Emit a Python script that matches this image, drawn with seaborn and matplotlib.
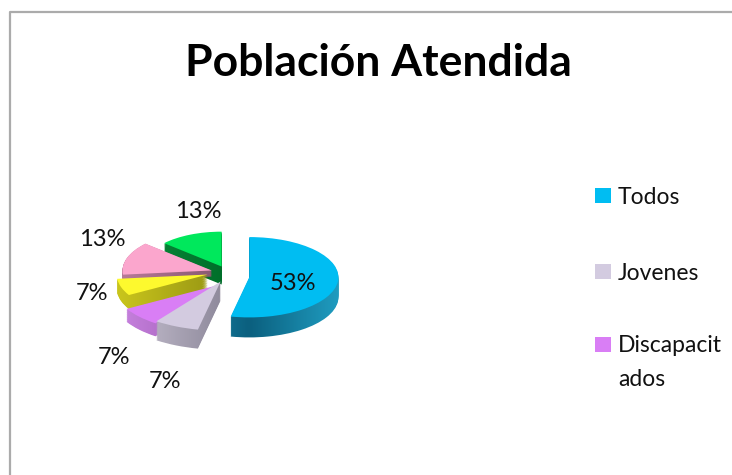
import matplotlib
matplotlib.use('Agg')
import matplotlib.pyplot as plt
from matplotlib.colors import LinearSegmentedColormap
from matplotlib.lines import Line2D
from matplotlib.patches import Rectangle
import numpy as np
import seaborn as sns

# datos
titulo = 'Población Atendida'
valores = [8, 1, 1, 1, 2, 2]
leyenda = ['Todos', 'Jovenes', 'Discapacit\nados']
colores = ['#00bdf2', '#d3cbe0', '#d97ef5', '#fdf92e', '#fba6cd', '#00e85c']
oscuros = ['#0b5f7e', '#8f8a9c', '#9a58ae', '#9c9a14', '#8a5a72', '#006f2a']
claros = ['#1f9cc0', '#c2bccc', '#c47fdc', '#c9c51c', '#b77a98', '#0a8a3a']

# estilo y posiciones en pixeles
W, H = 732, 475
CX, CY = 222, 275
RX, RY = 91, 41
explode = [0.29, 0.2, 0.2, 0.2, 0.2, 0.2]
radios = [0.98, 1.2, 1.14, 1.0, 0.98, 0.85]
prof = [20, 19, 13, 14, 6, 18]
ajuste_x = [1, 6, 8, 3, 7, 7]
ajuste_y = [1, -1, 5, -3, -2, -1]
pos_pct = [(293, 284), (165, 381), (114, 358), (92, 293), (102, 239), (198, 212)]
pos_ley = [(595, 196), (595, 272), (595, 345)]
pos_txt = [(618, 197), (618, 273), (618, 346), (618, 379)]

sns.set_theme(style='white')
plt.rcParams['font.family'] = ['Lato', 'DejaVu Sans']

fig = plt.figure(figsize=(W / 100, H / 100), dpi=100)
fondo = fig.add_axes([0, 0, 1, 1])
fondo.set_xlim(0, W)
fondo.set_ylim(H, 0)
fondo.axis('off')

# marco gris (solo arriba e izquierda se ven)
fondo.add_line(Line2D([10, 10, W], [H, 12, 12], color='#ababab', lw=1.6))

ax = fig.add_axes([(CX - RX * 1.6) / W, 1 - (CY + RY * 3) / H, RX * 3.2 / W, RY * 6 / H])
LX, LY = 1.6, 3.0
orden = [5, 4, 3, 2, 1, 0]  # de atras hacia adelante


def pastel(dy):
    wedges, _ = ax.pie(valores, colors=colores, startangle=90, counterclock=False,
                       explode=explode, radius=1.0)
    for i, w in enumerate(wedges):
        w.set_radius(radios[i])
        x, y = w.center
        w.set_center((x + ajuste_x[i] / RX, y - (ajuste_y[i] + dy * prof[i]) / RY))
        w.set_linewidth(0)
    return wedges


# cuerpo con degradado, capa por capa
grad = np.linspace(0, 1, 64).reshape(1, -1)
for k in range(20, 0, -1):
    capa = pastel(k / 20)
    for i, w in enumerate(capa):
        z = (orden.index(i) + 1) * 100 + (20 - k)
        cm = LinearSegmentedColormap.from_list('c', [claros[i], oscuros[i], claros[i]])
        im = ax.imshow(grad, cmap=cm, extent=(w.center[0] - 1, w.center[0] + 1, -3, 3),
                       aspect='auto', zorder=z, interpolation='bilinear')
        w.set_facecolor('none')
        im.set_clip_path(w)

# cara superior
tapa = pastel(0)
for i, w in enumerate(tapa):
    w.set_zorder((orden.index(i) + 1) * 100 + 50)

ax.set_aspect('auto')
ax.set_xlim(-LX, LX)
ax.set_ylim(-LY, LY)
ax.axis('off')
ax.patch.set_alpha(0)

# porcentajes
total = sum(valores)
for v, (x, y) in zip(valores, pos_pct):
    fondo.text(x, y, f'{v / total * 100:.0f}%', fontsize=17, color='#111111',
               ha='center', va='center', zorder=10)
fondo.set_zorder(2)

# leyenda
for c, (x, y) in zip(colores, pos_ley):
    fondo.add_patch(Rectangle((x, y - 8), 16, 15, color=c, lw=0))
lineas = [t for l in leyenda for t in l.split('\n')]
for t, (x, y) in zip(lineas, pos_txt):
    fondo.text(x, y, t, fontsize=16.5, color='#111111', ha='left', va='center')

fondo.text(378, 63, titulo, fontsize=32, fontweight='bold', color='black', ha='center', va='center')

fig.savefig('out.png', dpi=100)
